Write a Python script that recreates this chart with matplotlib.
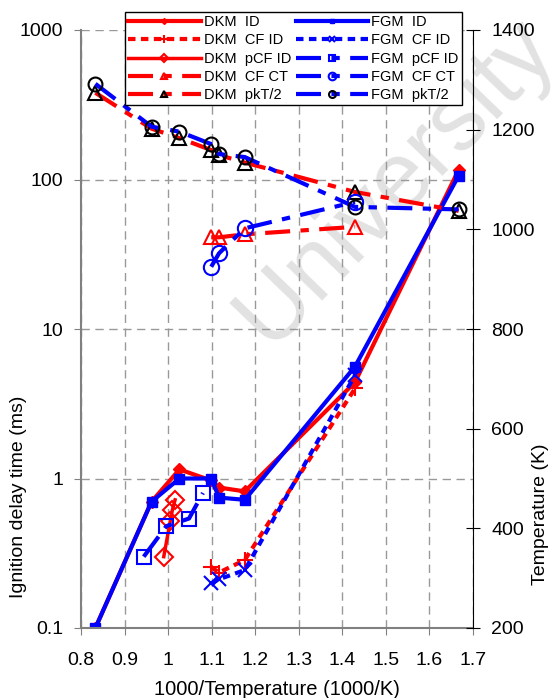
import matplotlib
matplotlib.use("Agg")
import matplotlib.pyplot as plt

plt.rcParams["font.family"] = ["Liberation Sans", "DejaVu Sans"]

# x = 1000/T for the initial temperatures
x_id = [0.833, 0.962, 1.026, 1.099, 1.117, 1.176, 1.429, 1.667]
dkm_id = [0.1, 0.70, 1.15, 0.97, 0.87, 0.82, 4.4, 116]
fgm_id = [0.1, 0.70, 1.0, 1.0, 0.745, 0.72, 5.6, 106]

x_cf = [1.099, 1.117, 1.176, 1.429]
dkm_cf_id = [0.255, 0.235, 0.285, 4.0]
fgm_cf_id = [0.199, 0.212, 0.244, 4.9]

x_dkm_pcf = [0.990, 1.005, 1.010, 1.016]
dkm_pcf_id = [0.30, 0.52, 0.62, 0.72]
x_fgm_pcf = [0.944, 0.996, 1.048, 1.080]
fgm_pcf_id = [0.30, 0.48, 0.54, 0.80]

# temperatures (right axis)
dkm_cf_ct = [984, 984, 990, 1005]
fgm_cf_ct = [925, 952, 1002, 1055]
dkm_pkt2 = [1274, 1202, 1183, 1159, 1149, 1134, 1075, 1037]
fgm_pkt2 = [1292, 1206, 1196, 1171, 1151, 1145, 1045, 1040]

RED, BLUE = "#ff0000", "#0000ff"
dot = (0, (1.8, 1.3))
dashdot = (0, (6, 2.5, 2, 2.5))

fig = plt.figure(figsize=(5.54, 6.98), dpi=100)
ax = fig.add_axes([81 / 554, 1 - 628 / 698, 392 / 554, 598 / 698])
ax.set_facecolor("none")
ax2 = ax.twinx()

fig.text(0.715, 0.74, "University", fontsize=68, color="#e2e2e2",
         rotation=46, ha="center", va="center", zorder=-1)

h = []
h += ax.plot(x_id, dkm_id, color=RED, lw=3, marker="D", ms=6,
             label="DKM  ID")
h += ax.plot(x_cf, dkm_cf_id, color=RED, lw=3, ls=dot, marker="+", ms=12,
             mew=1.5, label="DKM  CF ID")
h += ax.plot(x_dkm_pcf, dkm_pcf_id, color=RED, lw=2.5, marker="D", ms=9,
             mfc="none", mew=1.5, label="DKM  pCF ID")
h += ax2.plot(x_cf, dkm_cf_ct, color=RED, lw=3, ls=dashdot, marker="^",
              ms=10, mfc="none", mew=1.5, label="DKM  CF CT")
h += ax2.plot(x_id, dkm_pkt2, color=RED, lw=3, ls=dashdot, marker="^",
              ms=10, mfc="none", mec="black", mew=1.5, label="DKM  pkT/2")

h += ax.plot(x_id, fgm_id, color=BLUE, lw=3, marker="s", ms=7,
             label="FGM  ID")
h += ax.plot(x_cf, fgm_cf_id, color=BLUE, lw=3, ls=dot, marker="x", ms=10,
             mew=1.5, label="FGM  CF ID")
h += ax.plot(x_fgm_pcf, fgm_pcf_id, color=BLUE, lw=3, ls=dashdot,
             marker="s", ms=10, mfc="none", mew=1.5, label="FGM  pCF ID")
h += ax2.plot(x_cf, fgm_cf_ct, color=BLUE, lw=3, ls=dashdot, marker="o",
              ms=11, mfc="none", mew=1.5, label="FGM  CF CT")
h += ax2.plot(x_id, fgm_pkt2, color=BLUE, lw=3, ls=dashdot, marker="o",
              ms=10, mfc="none", mec="black", mew=1.5, label="FGM  pkT/2")

ax.set_yscale("log")
ax.set_ylim(0.1, 1000)
ax.set_xlim(0.8, 1.7)
ax.set_xticks([0.8, 0.9, 1.0, 1.1, 1.2, 1.3, 1.4, 1.5, 1.6, 1.7])
ax.set_xticklabels(["0.8", "0.9", "1", "1.1", "1.2", "1.3", "1.4", "1.5",
                    "1.6", "1.7"])
ax.set_yticks([0.1, 1, 10, 100, 1000])
ax.set_yticklabels(["0.1", "1", "10", "100", "1000"])
ax.minorticks_off()
ax2.set_ylim(200, 1400)
ax2.set_yticks(range(200, 1401, 200))

ax.grid(True, color="#999999", ls=(0, (6, 4)), lw=1)
ax.tick_params(axis="both", labelsize=14, direction="out", length=5,
               color="#808080")
ax.tick_params(axis="x", pad=12)
ax.tick_params(axis="y", pad=8)
ax2.tick_params(axis="y", labelsize=14, direction="inout", length=10,
                pad=8)

ax.spines["top"].set_visible(False)
ax2.spines["top"].set_visible(False)
ax.spines["left"].set_color("#808080")
ax.spines["left"].set_linewidth(1.5)
ax.spines["bottom"].set_color("#808080")
ax.spines["bottom"].set_linewidth(1.5)
ax2.spines["left"].set_visible(False)
ax2.spines["bottom"].set_visible(False)
ax.spines["right"].set_visible(False)
ax2.spines["right"].set_color("black")

ax.set_xlabel("1000/Temperature (1000/K)", fontsize=14.5, labelpad=8)
ax.set_ylabel("Ignition delay time (ms)", fontsize=14)
ax.yaxis.set_label_coords(-0.138, 0.22)
ax2.set_ylabel("Temperature (K)", fontsize=14)
ax2.yaxis.set_label_coords(1.15, 0.19)

leg = fig.legend(handles=h, labels=[l.get_label() for l in h], ncol=2,
                 loc="upper left", bbox_to_anchor=(125 / 554, 1 - 12 / 698),
                 fontsize=10.5, frameon=True, fancybox=False,
                 edgecolor="black", framealpha=1, borderpad=0.2,
                 labelspacing=0.3, handlelength=5.0, handletextpad=0.2,
                 columnspacing=0.3, borderaxespad=0, markerscale=0.5)
leg.get_frame().set_linewidth(1)

fig.savefig("out.png", dpi=100)
